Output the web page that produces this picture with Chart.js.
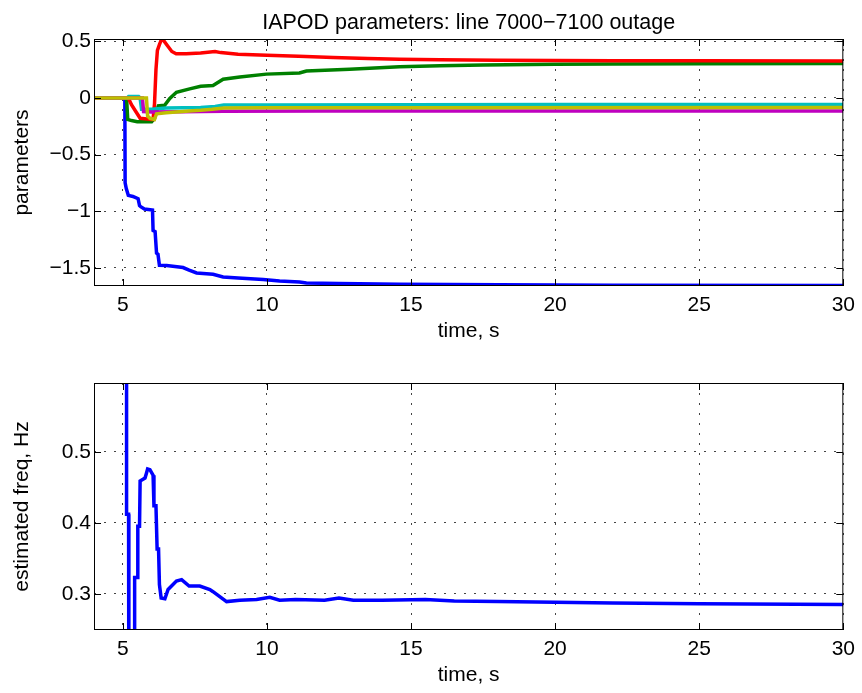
<!DOCTYPE html>
<html>
<head>
<meta charset="utf-8">
<script src="https://cdn.jsdelivr.net/npm/chart.js@4.4.0/dist/chart.umd.min.js"></script>
<style>
  body { margin: 0; background: #fff; }
  #wrap { position: relative; width: 862px; height: 693px; }
  canvas { position: absolute; left: 0; }
</style>
</head>
<body>
<div id="wrap">
  <canvas id="paramChart" width="862" height="344" style="top:0"></canvas>
  <canvas id="freqChart" width="862" height="344" style="top:344px"></canvas>
</div>
<script>
// time axis
const xTicks = [5, 10, 15, 20, 25, 30];

// top panel: IAPOD parameters
const paramTicks = [-1.5, -1, -0.5, 0, 0.5];
const tBlue = [4, 5.07, 5.08, 5.12, 5.19, 5.35, 5.53, 5.58, 5.62, 5.75, 6.03, 6.05, 6.12, 6.17, 6.22, 6.27, 6.52, 7.09, 7.3, 7.56, 8.13, 8.48, 9.0, 9.87, 10.44, 11.13, 11.37, 12.5, 14.6, 18.06, 22, 30];
const vBlue = [0, 0, -0.75, -0.8, -0.86, -0.87, -0.89, -0.95, -0.96, -0.98, -0.99, -1.17, -1.18, -1.37, -1.38, -1.477, -1.48, -1.497, -1.52, -1.545, -1.556, -1.58, -1.59, -1.603, -1.615, -1.624, -1.633, -1.638, -1.644, -1.65, -1.654, -1.656];
const tGreen = [4, 5.13, 5.17, 5.3, 5.5, 6.0, 6.1, 6.17, 6.23, 6.45, 6.63, 6.86, 7.32, 7.7, 8.13, 8.48, 9.06, 9.98, 11.13, 11.37, 12.87, 14.6, 16, 17.5, 20, 22, 25, 30];
const vGreen = [0, 0, -0.19, -0.2, -0.21, -0.21, -0.18, -0.12, -0.07, -0.065, -0.005, 0.05, 0.08, 0.103, 0.11, 0.165, 0.185, 0.21, 0.22, 0.238, 0.253, 0.274, 0.283, 0.29, 0.297, 0.30, 0.302, 0.303];
const tRed = [4, 5.19, 5.3, 5.45, 5.6, 6.0, 6.05, 6.1, 6.15, 6.2, 6.27, 6.34, 6.42, 6.55, 6.7, 6.85, 7.2, 7.7, 8.2, 8.4, 9.0, 10.0, 11.1, 12.3, 13.5, 14.6, 16, 18, 20, 22, 25, 30];
const vRed = [0, 0, -0.06, -0.12, -0.18, -0.19, -0.19, -0.05, 0.25, 0.42, 0.47, 0.515, 0.505, 0.46, 0.41, 0.39, 0.39, 0.397, 0.41, 0.40, 0.385, 0.377, 0.368, 0.356, 0.348, 0.341, 0.336, 0.332, 0.330, 0.328, 0.327, 0.326];
const tCyan = [4, 5.15, 5.2, 5.55, 5.6, 5.65, 6.0, 6.5, 7.7, 8.2, 8.5, 10, 15, 20, 30];
const vCyan = [0, 0, 0.012, 0.012, 0, -0.1, -0.1, -0.09, -0.085, -0.075, -0.063, -0.062, -0.06, -0.058, -0.058];
const tMagenta = [4, 5.68, 5.72, 6.0, 7.0, 8.5, 12, 30];
const vMagenta = [0, 0, -0.12, -0.125, -0.122, -0.118, -0.116, -0.115];
const tYellow = [4, 5.82, 5.86, 5.94, 6.1, 6.17, 6.5, 7.3, 7.7, 8.1, 8.5, 10, 15, 30];
const vYellow = [0, 0, -0.16, -0.18, -0.19, -0.14, -0.13, -0.115, -0.109, -0.1, -0.088, -0.087, -0.086, -0.085];

// bottom panel: estimated frequency
const freqTicks = [0.3, 0.4, 0.5];
const tFreq = [5.13, 5.13, 5.2, 5.21, 5.4, 5.41, 5.5, 5.52, 5.58, 5.6, 5.77, 5.82, 5.86, 5.94, 6.05, 6.08, 6.15, 6.19, 6.24, 6.27, 6.33, 6.46, 6.57, 6.86, 7.04, 7.3, 7.67, 8.02, 8.13, 8.6, 9.06, 9.64, 10.1, 10.44, 11, 12, 12.5, 13, 14, 15.5, 16.5, 18, 20, 22, 25, 30];
const vFreq = [0.9, 0.412, 0.412, 0.1, 0.1, 0.323, 0.323, 0.395, 0.395, 0.459, 0.463, 0.47, 0.476, 0.475, 0.467, 0.424, 0.424, 0.363, 0.363, 0.313, 0.294, 0.293, 0.306, 0.318, 0.320, 0.311, 0.311, 0.306, 0.303, 0.289, 0.291, 0.292, 0.295, 0.291, 0.292, 0.291, 0.294, 0.291, 0.291, 0.292, 0.29, 0.289, 0.288, 0.287, 0.286, 0.285];

const FONT = '"Liberation Sans", Arial, Helvetica, sans-serif';
const fmt = v => (v < 0 ? '\u2212' + Math.abs(v) : String(v));
const pts = (ts, vs) => ts.map((t, i) => ({ x: t, y: vs[i] }));

function line(ts, vs, color) {
    return {
        data: pts(ts, vs),
        borderColor: color,
        borderWidth: 3.5,
        pointRadius: 0,
        tension: 0,
        fill: false
    };
}

// matlab style box with inward ticks
const boxPlugin = {
    id: 'boxPlugin',
    afterDatasetsDraw(chart) {
        const { ctx, chartArea: a, scales: { x, y } } = chart;
        ctx.save();
        ctx.strokeStyle = '#000';
        ctx.lineWidth = 1;
        ctx.strokeRect(a.left + 0.5, a.top + 0.5, a.right - a.left - 1, a.bottom - a.top - 1);
        ctx.beginPath();
        x.ticks.forEach(t => {
            const px = Math.round(x.getPixelForValue(t.value)) + 0.5;
            ctx.moveTo(px, a.bottom); ctx.lineTo(px, a.bottom - 7);
            ctx.moveTo(px, a.top); ctx.lineTo(px, a.top + 7);
        });
        y.ticks.forEach(t => {
            const py = Math.round(y.getPixelForValue(t.value)) + 0.5;
            ctx.moveTo(a.left, py); ctx.lineTo(a.left + 7, py);
            ctx.moveTo(a.right, py); ctx.lineTo(a.right - 7, py);
        });
        ctx.stroke();
        ctx.restore();
    }
};

function makeOptions(yMin, yMax, yTicks, yTitle, titleText, topPad) {
    const gridStyle = { color: '#444', lineWidth: 1, drawTicks: false };
    const borderStyle = { display: false, dash: [2, 8] };
    return {
        responsive: false,
        animation: false,
        devicePixelRatio: 1,
        layout: { padding: { left: 0, right: 17, top: topPad, bottom: 0 } },
        plugins: {
            legend: { display: false },
            tooltip: { enabled: false },
            title: {
                display: !!titleText,
                text: titleText,
                fullSize: false,
                color: '#000',
                font: { family: FONT, size: 21.5, weight: 'normal' },
                padding: { top: 9.8, bottom: 3.4 }
            }
        },
        scales: {
            x: {
                type: 'linear',
                min: 4,
                max: 30,
                grid: gridStyle,
                border: borderStyle,
                afterBuildTicks: axis => { axis.ticks = xTicks.map(v => ({ value: v })); },
                afterFit: s => { s.height = 58; },
                ticks: { color: '#000', padding: 7, maxRotation: 0, font: { family: FONT, size: 21 }, callback: v => fmt(v) },
                title: { display: true, text: 'time, s', color: '#000', font: { family: FONT, size: 21 }, padding: { top: 0, bottom: 0 } }
            },
            y: {
                type: 'linear',
                min: yMin,
                max: yMax,
                grid: gridStyle,
                border: borderStyle,
                afterBuildTicks: axis => { axis.ticks = yTicks.map(v => ({ value: v })); },
                afterFit: s => { s.width = 94; },
                ticks: { color: '#000', padding: 3, font: { family: FONT, size: 21 }, callback: v => fmt(v) },
                title: { display: true, text: yTitle, color: '#000', font: { family: FONT, size: 21 }, padding: { top: 9.4, bottom: 0 } }
            }
        }
    };
}

// dataset index 0 is drawn on top, so yellow goes first
new Chart(document.getElementById('paramChart'), {
    type: 'line',
    data: {
        datasets: [
            line(tYellow, vYellow, '#BFBF00'),
            line(tMagenta, vMagenta, '#BF00BF'),
            line(tCyan, vCyan, '#00BFBF'),
            line(tRed, vRed, '#FF0000'),
            line(tGreen, vGreen, '#008000'),
            line(tBlue, vBlue, '#0000FF')
        ]
    },
    options: makeOptions(-1.66, 0.52, paramTicks, 'parameters', 'IAPOD parameters: line 7000\u22127100 outage', 0),
    plugins: [boxPlugin]
});

new Chart(document.getElementById('freqChart'), {
    type: 'line',
    data: {
        datasets: [line(tFreq, vFreq, '#0000FF')]
    },
    options: makeOptions(0.249, 0.597, freqTicks, 'estimated freq, Hz', '', 39),
    plugins: [boxPlugin]
});
</script>
</body>
</html>
